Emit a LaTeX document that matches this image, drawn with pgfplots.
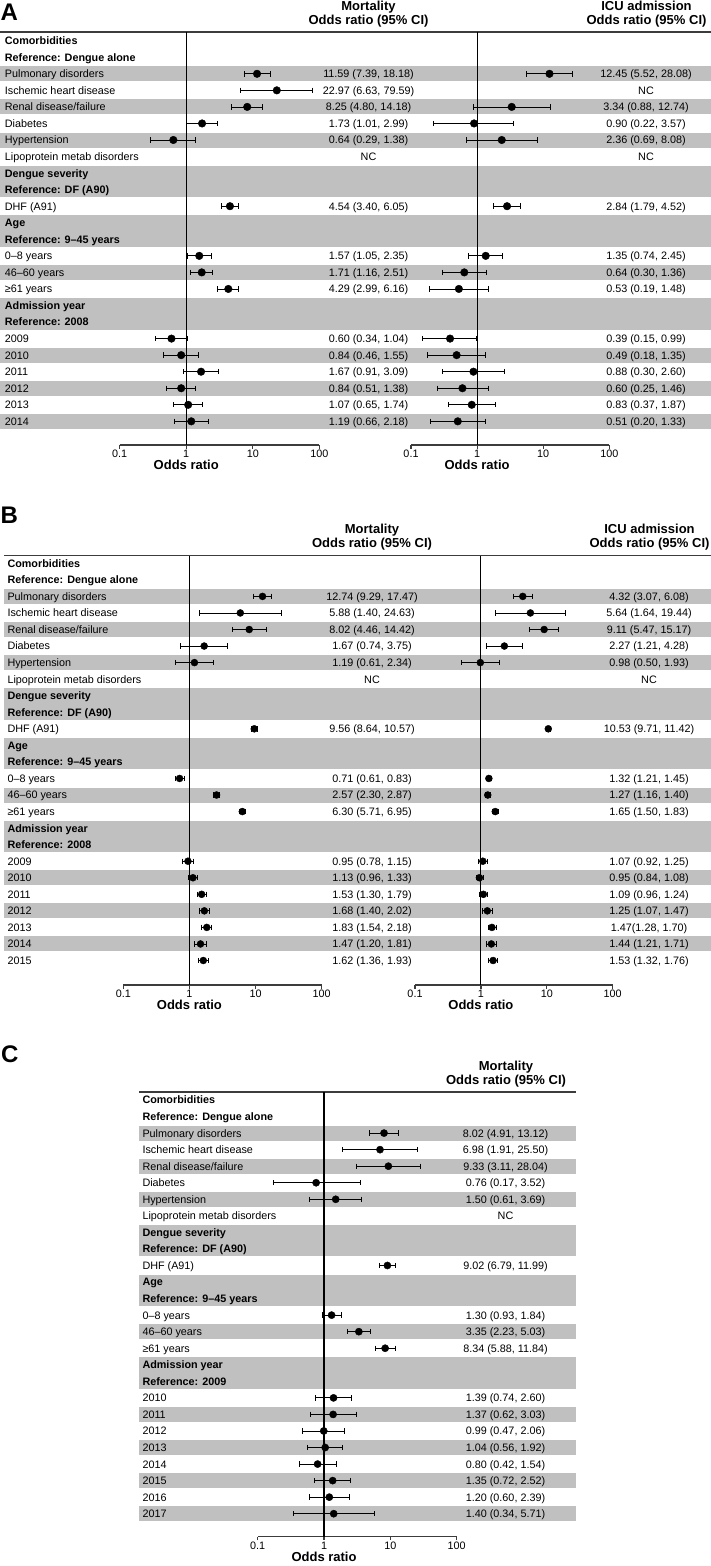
\documentclass[border=0pt]{standalone}
\usepackage{fontspec}
\setmainfont{Liberation Sans}
\usepackage{pgfplots}
\pgfplotsset{compat=1.18}

\definecolor{band}{RGB}{192,192,192}
\definecolor{rulegrey}{RGB}{60,60,60}

\newcommand{\rowfont}{\fontsize{10.8}{13}\selectfont}
\newcommand{\hdfont}{\fontsize{13}{15.6}\selectfont\bfseries}

% all axes in the figure share these settings (xmode goes on each axis)
\pgfplotsset{
  scale only axis, clip=false,
  xmin=0.1, xmax=100,
  axis x line*=bottom, axis y line=none, ytick=\empty,
  xtick={0.1,1,10,100}, xticklabels={0.1,1,10,100},
  xminorticks=false, tick align=outside, major tick length=3.5pt,
  x axis line style={-, line width=1.5pt, rulegrey},
  xtick style={line width=1.2pt, rulegrey},
  xticklabel style={font=\rowfont, inner sep=1.5pt},
  xlabel={Odds ratio},
  xlabel style={at={(ticklabel cs:0.33333)}, anchor=near ticklabel, font=\hdfont, inner sep=1pt},
  unbounded coords=jump,
}

\tikzset{
  lab/.style={anchor=base west, yshift=-3.9pt, font=\rowfont, inner sep=0pt},
  val/.style={anchor=base, yshift=-3.9pt, font=\rowfont, inner sep=0pt},
  hd/.style={anchor=base, font=\hdfont, inner sep=0pt},
  letter/.style={anchor=base west, inner sep=0pt, font=\fontsize{24}{28}\selectfont\bfseries},
  ci/.style={black, line width=0.8pt, mark=|, mark size=2.7pt},
}

% row labels shared by the three panels (rows 1-17)
\newcommand{\commonlabels}[1]{%
  \foreach \r/\t in {1/{\textbf{Comorbidities}}, 2/{\textbf{Reference: Dengue alone}},
    3/{Pulmonary disorders}, 4/{Ischemic heart disease}, 5/{Renal disease/failure},
    6/{Diabetes}, 7/{Hypertension}, 8/{Lipoprotein metab disorders},
    9/{\textbf{Dengue severity}}, 10/{\textbf{Reference: DF (A90)}}, 11/{DHF (A91)},
    12/{\textbf{Age}}, 13/{\textbf{Reference: 9–45 years}}, 14/{0–8 years},
    15/{46–60 years}, 16/{≥61 years}, 17/{\textbf{Admission year}}}
    {\node[lab] at (#1,\r) {\t};}%
}

\begin{document}
\begin{tikzpicture}[x=1pt]
\path[use as bounding box] (0pt,0pt) rectangle (711pt,-1566pt);

% ================= Panel A =================
\node[letter] at (0.5pt,-20pt) {A};
\node[hd] at (368.5pt,-10.3pt) {Mortality};
\node[hd] at (368.5pt,-24.3pt) {Odds ratio (95\% CI)};
\node[hd] at (646.5pt,-10.3pt) {ICU admission};
\node[hd] at (646.5pt,-24.3pt) {Odds ratio (95\% CI)};
\begin{scope}[shift={(0pt,-24.15pt)}, y=-16.55pt]
  \foreach \a/\b in {3/3,5/5,7/7,9/10,12/13,15/15,17/18,20/20,22/22,24/24}
    {\fill[band] (0,\a-0.453) rectangle (711,\b+0.453);}
  \commonlabels{4.7}
  \foreach \r/\t in {18/{\textbf{Reference: 2008}}, 19/2009, 20/2010, 21/2011, 22/2012, 23/2013, 24/2014}
    {\node[lab] at (4.7,\r) {\t};}
  \foreach \r/\t in {3/{11.59 (7.39, 18.18)}, 4/{22.97 (6.63, 79.59)}, 5/{8.25 (4.80, 14.18)},
    6/{1.73 (1.01, 2.99)}, 7/{0.64 (0.29, 1.38)}, 8/{NC}, 11/{4.54 (3.40, 6.05)},
    14/{1.57 (1.05, 2.35)}, 15/{1.71 (1.16, 2.51)}, 16/{4.29 (2.99, 6.16)},
    19/{0.60 (0.34, 1.04)}, 20/{0.84 (0.46, 1.55)}, 21/{1.67 (0.91, 3.09)},
    22/{0.84 (0.51, 1.38)}, 23/{1.07 (0.65, 1.74)}, 24/{1.19 (0.66, 2.18)}}
    {\node[val] at (368.5,\r) {\t};}
  \foreach \r/\t in {3/{12.45 (5.52, 28.08)}, 4/{NC}, 5/{3.34 (0.88, 12.74)},
    6/{0.90 (0.22, 3.57)}, 7/{2.36 (0.69, 8.08)}, 8/{NC}, 11/{2.84 (1.79, 4.52)},
    14/{1.35 (0.74, 2.45)}, 15/{0.64 (0.30, 1.36)}, 16/{0.53 (0.19, 1.48)},
    19/{0.39 (0.15, 0.99)}, 20/{0.49 (0.18, 1.35)}, 21/{0.88 (0.30, 2.60)},
    22/{0.60 (0.25, 1.46)}, 23/{0.83 (0.37, 1.87)}, 24/{0.51 (0.20, 1.33)}}
    {\node[val] at (646,\r) {\t};}
\end{scope}
\draw[rulegrey, line width=1.3pt] (0pt,-32pt) -- (711pt,-32pt);

\begin{axis}[xmode=log, at={(119.7pt,-32pt)}, anchor=north west,
  width=199.6pt, height=413pt, ymin=-25.43, ymax=-0.474]
  \draw[black, line width=1.1pt] (rel axis cs:0.33333,0) -- (rel axis cs:0.33333,1);
  \addplot[ci] coordinates {
    (7.39,-3) (18.18,-3) (nan,nan) (6.63,-4) (79.59,-4) (nan,nan)
    (4.80,-5) (14.18,-5) (nan,nan) (1.01,-6) (2.99,-6) (nan,nan)
    (0.29,-7) (1.38,-7) (nan,nan) (3.40,-11) (6.05,-11) (nan,nan)
    (1.05,-14) (2.35,-14) (nan,nan) (1.16,-15) (2.51,-15) (nan,nan)
    (2.99,-16) (6.16,-16) (nan,nan) (0.34,-19) (1.04,-19) (nan,nan)
    (0.46,-20) (1.55,-20) (nan,nan) (0.91,-21) (3.09,-21) (nan,nan)
    (0.51,-22) (1.38,-22) (nan,nan) (0.65,-23) (1.74,-23) (nan,nan)
    (0.66,-24) (2.18,-24)};
  \addplot[black, only marks, mark=*, mark size=3.8pt] coordinates {
    (11.59,-3) (22.97,-4) (8.25,-5) (1.73,-6) (0.64,-7) (4.54,-11)
    (1.57,-14) (1.71,-15) (4.29,-16) (0.60,-19) (0.84,-20) (1.67,-21)
    (0.84,-22) (1.07,-23) (1.19,-24)};
\end{axis}

\begin{axis}[xmode=log, at={(411pt,-32pt)}, anchor=north west,
  width=198.3pt, height=413pt, ymin=-25.43, ymax=-0.474]
  \draw[black, line width=1.1pt] (rel axis cs:0.33333,0) -- (rel axis cs:0.33333,1);
  \addplot[ci] coordinates {
    (5.52,-3) (28.08,-3) (nan,nan) (0.88,-5) (12.74,-5) (nan,nan)
    (0.22,-6) (3.57,-6) (nan,nan) (0.69,-7) (8.08,-7) (nan,nan)
    (1.79,-11) (4.52,-11) (nan,nan) (0.74,-14) (2.45,-14) (nan,nan)
    (0.30,-15) (1.36,-15) (nan,nan) (0.19,-16) (1.48,-16) (nan,nan)
    (0.15,-19) (0.99,-19) (nan,nan) (0.18,-20) (1.35,-20) (nan,nan)
    (0.30,-21) (2.60,-21) (nan,nan) (0.25,-22) (1.46,-22) (nan,nan)
    (0.37,-23) (1.87,-23) (nan,nan) (0.20,-24) (1.33,-24)};
  \addplot[black, only marks, mark=*, mark size=3.8pt] coordinates {
    (12.45,-3) (3.34,-5) (0.90,-6) (2.36,-7) (2.84,-11)
    (1.35,-14) (0.64,-15) (0.53,-16) (0.39,-19) (0.49,-20) (0.88,-21)
    (0.60,-22) (0.83,-23) (0.51,-24)};
\end{axis}

% ================= Panel B =================
\node[letter] at (0.5pt,-523.3pt) {B};
\node[hd] at (372pt,-533.3pt) {Mortality};
\node[hd] at (372pt,-547.5pt) {Odds ratio (95\% CI)};
\node[hd] at (649.5pt,-533.3pt) {ICU admission};
\node[hd] at (649.5pt,-547.5pt) {Odds ratio (95\% CI)};
\begin{scope}[shift={(0pt,-546.75pt)}, y=-16.55pt]
  \foreach \a/\b in {3/3,5/5,7/7,9/10,12/13,15/15,17/18,20/20,22/22,24/24}
    {\fill[band] (4,\a-0.453) rectangle (711,\b+0.453);}
  \commonlabels{7.3}
  \foreach \r/\t in {18/{\textbf{Reference: 2008}}, 19/2009, 20/2010, 21/2011, 22/2012, 23/2013, 24/2014, 25/2015}
    {\node[lab] at (7.3,\r) {\t};}
  \foreach \r/\t in {3/{12.74 (9.29, 17.47)}, 4/{5.88 (1.40, 24.63)}, 5/{8.02 (4.46, 14.42)},
    6/{1.67 (0.74, 3.75)}, 7/{1.19 (0.61, 2.34)}, 8/{NC}, 11/{9.56 (8.64, 10.57)},
    14/{0.71 (0.61, 0.83)}, 15/{2.57 (2.30, 2.87)}, 16/{6.30 (5.71, 6.95)},
    19/{0.95 (0.78, 1.15)}, 20/{1.13 (0.96, 1.33)}, 21/{1.53 (1.30, 1.79)},
    22/{1.68 (1.40, 2.02)}, 23/{1.83 (1.54, 2.18)}, 24/{1.47 (1.20, 1.81)}, 25/{1.62 (1.36, 1.93)}}
    {\node[val] at (372,\r) {\t};}
  \foreach \r/\t in {3/{4.32 (3.07, 6.08)}, 4/{5.64 (1.64, 19.44)}, 5/{9.11 (5.47, 15.17)},
    6/{2.27 (1.21, 4.28)}, 7/{0.98 (0.50, 1.93)}, 8/{NC}, 11/{10.53 (9.71, 11.42)},
    14/{1.32 (1.21, 1.45)}, 15/{1.27 (1.16, 1.40)}, 16/{1.65 (1.50, 1.83)},
    19/{1.07 (0.92, 1.25)}, 20/{0.95 (0.84, 1.08)}, 21/{1.09 (0.96, 1.24)},
    22/{1.25 (1.07, 1.47)}, 23/{1.47(1.28, 1.70)}, 24/{1.44 (1.21, 1.71)}, 25/{1.53 (1.32, 1.76)}}
    {\node[val] at (649,\r) {\t};}
\end{scope}
\draw[rulegrey, line width=1.3pt] (4pt,-555.7pt) -- (711pt,-555.7pt);

\begin{axis}[xmode=log, at={(123.3pt,-555.7pt)}, anchor=north west,
  width=198.4pt, height=429.3pt, ymin=-26.48, ymax=-0.541]
  \draw[black, line width=1.1pt] (rel axis cs:0.33333,0) -- (rel axis cs:0.33333,1);
  \addplot[ci] coordinates {
    (9.29,-3) (17.47,-3) (nan,nan) (1.40,-4) (24.63,-4) (nan,nan)
    (4.46,-5) (14.42,-5) (nan,nan) (0.74,-6) (3.75,-6) (nan,nan)
    (0.61,-7) (2.34,-7) (nan,nan) (8.64,-11) (10.57,-11) (nan,nan)
    (0.61,-14) (0.83,-14) (nan,nan) (2.30,-15) (2.87,-15) (nan,nan)
    (5.71,-16) (6.95,-16) (nan,nan) (0.78,-19) (1.15,-19) (nan,nan)
    (0.96,-20) (1.33,-20) (nan,nan) (1.30,-21) (1.79,-21) (nan,nan)
    (1.40,-22) (2.02,-22) (nan,nan) (1.54,-23) (2.18,-23) (nan,nan)
    (1.20,-24) (1.81,-24) (nan,nan) (1.36,-25) (1.93,-25)};
  \addplot[black, only marks, mark=*, mark size=3.5pt] coordinates {
    (12.74,-3) (5.88,-4) (8.02,-5) (1.67,-6) (1.19,-7) (9.56,-11)
    (0.71,-14) (2.57,-15) (6.30,-16) (0.95,-19) (1.13,-20) (1.53,-21)
    (1.68,-22) (1.83,-23) (1.47,-24) (1.62,-25)};
\end{axis}

\begin{axis}[xmode=log, at={(415pt,-555.7pt)}, anchor=north west,
  width=197.7pt, height=429.3pt, ymin=-26.48, ymax=-0.541]
  \draw[black, line width=1.1pt] (rel axis cs:0.33333,0) -- (rel axis cs:0.33333,1);
  \addplot[ci] coordinates {
    (3.07,-3) (6.08,-3) (nan,nan) (1.64,-4) (19.44,-4) (nan,nan)
    (5.47,-5) (15.17,-5) (nan,nan) (1.21,-6) (4.28,-6) (nan,nan)
    (0.50,-7) (1.93,-7) (nan,nan) (9.71,-11) (11.42,-11) (nan,nan)
    (1.21,-14) (1.45,-14) (nan,nan) (1.16,-15) (1.40,-15) (nan,nan)
    (1.50,-16) (1.83,-16) (nan,nan) (0.92,-19) (1.25,-19) (nan,nan)
    (0.84,-20) (1.08,-20) (nan,nan) (0.96,-21) (1.24,-21) (nan,nan)
    (1.07,-22) (1.47,-22) (nan,nan) (1.28,-23) (1.70,-23) (nan,nan)
    (1.21,-24) (1.71,-24) (nan,nan) (1.32,-25) (1.76,-25)};
  \addplot[black, only marks, mark=*, mark size=3.5pt] coordinates {
    (4.32,-3) (5.64,-4) (9.11,-5) (2.27,-6) (0.98,-7) (10.53,-11)
    (1.32,-14) (1.27,-15) (1.65,-16) (1.07,-19) (0.95,-20) (1.09,-21)
    (1.25,-22) (1.47,-23) (1.44,-24) (1.53,-25)};
\end{axis}

% ================= Panel C =================
\node[letter] at (1pt,-1062pt) {C};
\node[hd] at (506pt,-1070pt) {Mortality};
\node[hd] at (506pt,-1084pt) {Odds ratio (95\% CI)};
\begin{scope}[shift={(0pt,-1083.45pt)}, y=-16.55pt]
  \foreach \a/\b in {3/3,5/5,7/7,9/10,12/13,15/15,17/18,20/20,22/22,24/24,26/26}
    {\fill[band] (139,\a-0.453) rectangle (576,\b+0.453);}
  \commonlabels{142.3}
  \foreach \r/\t in {18/{\textbf{Reference: 2009}}, 19/2010, 20/2011, 21/2012, 22/2013, 23/2014, 24/2015, 25/2016, 26/2017}
    {\node[lab] at (142.3,\r) {\t};}
  \foreach \r/\t in {3/{8.02 (4.91, 13.12)}, 4/{6.98 (1.91, 25.50)}, 5/{9.33 (3.11, 28.04)},
    6/{0.76 (0.17, 3.52)}, 7/{1.50 (0.61, 3.69)}, 8/{NC}, 11/{9.02 (6.79, 11.99)},
    14/{1.30 (0.93, 1.84)}, 15/{3.35 (2.23, 5.03)}, 16/{8.34 (5.88, 11.84)},
    19/{1.39 (0.74, 2.60)}, 20/{1.37 (0.62, 3.03)}, 21/{0.99 (0.47, 2.06)},
    22/{1.04 (0.56, 1.92)}, 23/{0.80 (0.42, 1.54)}, 24/{1.35 (0.72, 2.52)},
    25/{1.20 (0.60, 2.39)}, 26/{1.40 (0.34, 5.71)}}
    {\node[val] at (505.5,\r) {\t};}
\end{scope}
\draw[rulegrey, line width=1.3pt] (139pt,-1092pt) -- (576pt,-1092pt);

\begin{axis}[xmode=log, at={(257.7pt,-1092pt)}, anchor=north west,
  width=199pt, height=444.7pt, ymin=-27.39, ymax=-0.517]
  \draw[black, line width=1.1pt] (rel axis cs:0.33333,0) -- (rel axis cs:0.33333,1);
  \addplot[ci] coordinates {
    (4.91,-3) (13.12,-3) (nan,nan) (1.91,-4) (25.50,-4) (nan,nan)
    (3.11,-5) (28.04,-5) (nan,nan) (0.17,-6) (3.52,-6) (nan,nan)
    (0.61,-7) (3.69,-7) (nan,nan) (6.79,-11) (11.99,-11) (nan,nan)
    (0.93,-14) (1.84,-14) (nan,nan) (2.23,-15) (5.03,-15) (nan,nan)
    (5.88,-16) (11.84,-16) (nan,nan) (0.74,-19) (2.60,-19) (nan,nan)
    (0.62,-20) (3.03,-20) (nan,nan) (0.47,-21) (2.06,-21) (nan,nan)
    (0.56,-22) (1.92,-22) (nan,nan) (0.42,-23) (1.54,-23) (nan,nan)
    (0.72,-24) (2.52,-24) (nan,nan) (0.60,-25) (2.39,-25) (nan,nan)
    (0.34,-26) (5.71,-26)};
  \addplot[black, only marks, mark=*, mark size=3.6pt] coordinates {
    (8.02,-3) (6.98,-4) (9.33,-5) (0.76,-6) (1.50,-7) (9.02,-11)
    (1.30,-14) (3.35,-15) (8.34,-16) (1.39,-19) (1.37,-20) (0.99,-21)
    (1.04,-22) (0.80,-23) (1.35,-24) (1.20,-25) (1.40,-26)};
\end{axis}

\end{tikzpicture}
\end{document}
